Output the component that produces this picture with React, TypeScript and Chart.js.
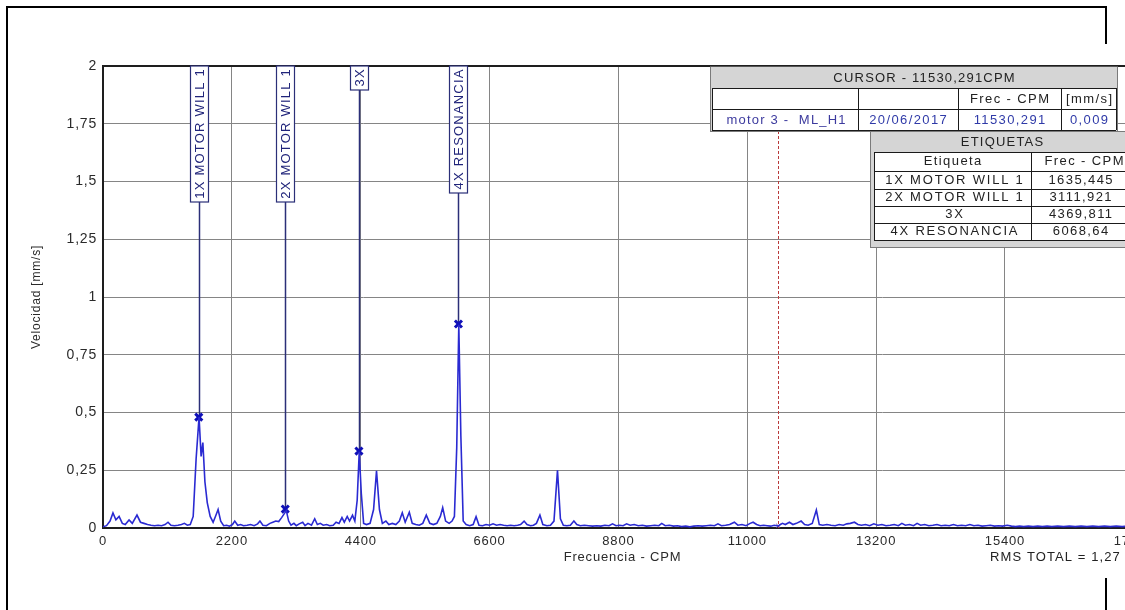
import React, { useEffect, useRef } from "react";
import { Chart, registerables } from "chart.js";
Chart.register(...registerables);

const FONT = "'Liberation Sans', Arial, sans-serif";

const freqCPM = [
  0, 60, 120, 170, 220, 275, 330, 380, 445, 500,
  580, 640, 700, 760, 820, 880, 940, 1000, 1060, 1110,
  1160, 1220, 1280, 1340, 1390, 1440, 1490, 1540, 1590, 1640,
  1675, 1705, 1740, 1780, 1830, 1880, 1920, 1965, 2010, 2060,
  2110, 2160, 2210, 2250, 2300, 2350, 2400, 2460, 2520, 2580,
  2640, 2680, 2730, 2790, 2850, 2900, 2950, 3000, 3050, 3090,
  3130, 3170, 3210, 3260, 3300, 3350, 3410, 3450, 3500, 3560,
  3615, 3660, 3710, 3760, 3820, 3870, 3930, 3980, 4030, 4080,
  4120, 4170, 4210, 4260, 4300, 4340, 4375, 4410, 4450, 4500,
  4560, 4620, 4670, 4720, 4770, 4830, 4880, 4940, 5000, 5060,
  5110, 5160, 5230, 5280, 5340, 5400, 5460, 5520, 5580, 5640,
  5700, 5760, 5800, 5850, 5910, 5960, 6000, 6040, 6075, 6110,
  6150, 6200, 6260, 6320, 6370, 6420, 6480, 6540, 6600, 6660,
  6720, 6780, 6840, 6900, 6960, 7020, 7080, 7130, 7190, 7240,
  7300, 7350, 7400, 7460, 7510, 7580, 7640, 7700, 7760, 7810,
  7860, 7920, 7980, 8040, 8090, 8150, 8220, 8290, 8360, 8430,
  8500, 8570, 8640, 8700, 8760, 8820, 8880, 8940, 9000, 9070,
  9140, 9210, 9280, 9350, 9420, 9490, 9540, 9600, 9670, 9740,
  9810, 9880, 9950, 10020, 10090, 10160, 10230, 10300, 10370, 10440,
  10500, 10560, 10630, 10700, 10780, 10840, 10910, 10980, 11050, 11100,
  11160, 11220, 11280, 11340, 11400, 11460, 11530, 11600, 11650, 11720,
  11780, 11840, 11920, 11980, 12040, 12110, 12180, 12230, 12290, 12360,
  12430, 12500, 12570, 12640, 12700, 12760, 12830, 12890, 12950, 13020,
  13090, 13160, 13230, 13300, 13370, 13440, 13510, 13580, 13640, 13700,
  13770, 13840, 13900, 13960, 14030, 14100, 14170, 14240, 14310, 14380,
  14450, 14520, 14590, 14660, 14730, 14800, 14870, 14940, 15010, 15080,
  15150, 15220, 15290, 15360, 15440, 15510, 15580, 15650, 15720, 15800,
  15880, 15960, 16040, 16120, 16200, 16300, 16400, 16500, 16600, 16700,
  16800, 16900, 17000, 17100, 17200, 17300, 17400, 17500, 17600, 17700,
];

const velocity = [
  0.005, 0.01, 0.03, 0.065, 0.035, 0.05, 0.02, 0.015, 0.035, 0.02,
  0.056, 0.025, 0.02, 0.015, 0.012, 0.01, 0.012, 0.01, 0.015, 0.025,
  0.012, 0.01, 0.012, 0.015, 0.02, 0.012, 0.015, 0.05, 0.3, 0.48,
  0.31, 0.37, 0.2, 0.11, 0.05, 0.025, 0.05, 0.08, 0.03, 0.01,
  0.012, 0.008, 0.015, 0.03, 0.012, 0.015, 0.01, 0.012, 0.015, 0.01,
  0.018, 0.03, 0.012, 0.01, 0.02, 0.025, 0.03, 0.028, 0.045, 0.06,
  0.075, 0.03, 0.012, 0.02, 0.01, 0.018, 0.025, 0.01, 0.02, 0.012,
  0.04, 0.015, 0.02, 0.012, 0.015, 0.01, 0.012, 0.025, 0.02, 0.045,
  0.025, 0.05, 0.03, 0.055, 0.03, 0.12, 0.33, 0.15, 0.02, 0.015,
  0.02, 0.08, 0.248, 0.08, 0.02, 0.03, 0.015, 0.02, 0.015, 0.03,
  0.066, 0.025, 0.068, 0.02, 0.015, 0.012, 0.02, 0.056, 0.02, 0.015,
  0.02, 0.05, 0.088, 0.03, 0.02, 0.03, 0.05, 0.35, 0.88, 0.4,
  0.03, 0.015, 0.01, 0.015, 0.049, 0.012, 0.01, 0.015, 0.012, 0.018,
  0.012, 0.015, 0.012, 0.01, 0.012, 0.01, 0.012, 0.015, 0.03, 0.015,
  0.01, 0.012, 0.02, 0.056, 0.015, 0.01, 0.012, 0.03, 0.25, 0.04,
  0.012, 0.01, 0.012, 0.03, 0.015, 0.01, 0.012, 0.01, 0.008, 0.01,
  0.008, 0.012, 0.01, 0.018, 0.01, 0.012, 0.01, 0.018, 0.012, 0.015,
  0.01, 0.012, 0.008, 0.01, 0.012, 0.01, 0.02, 0.01, 0.012, 0.008,
  0.01, 0.006, 0.008, 0.005, 0.008, 0.01, 0.008, 0.01, 0.012, 0.01,
  0.018, 0.01, 0.012, 0.015, 0.025, 0.012, 0.015, 0.01, 0.02, 0.025,
  0.015, 0.01, 0.012, 0.01, 0.008, 0.012, 0.009, 0.02, 0.015, 0.025,
  0.015, 0.02, 0.03, 0.015, 0.012, 0.02, 0.078, 0.015, 0.012, 0.015,
  0.012, 0.01, 0.015, 0.012, 0.018, 0.02, 0.025, 0.015, 0.012, 0.015,
  0.01, 0.018, 0.012, 0.015, 0.01, 0.012, 0.015, 0.01, 0.02, 0.012,
  0.015, 0.01, 0.02, 0.012, 0.015, 0.01, 0.012, 0.015, 0.01, 0.012,
  0.01, 0.015, 0.01, 0.012, 0.01, 0.015, 0.01, 0.012, 0.008, 0.01,
  0.012, 0.008, 0.01, 0.008, 0.012, 0.008, 0.006, 0.008, 0.006, 0.008,
  0.006, 0.008, 0.006, 0.008, 0.006, 0.008, 0.006, 0.008, 0.006, 0.008,
  0.006, 0.008, 0.006, 0.008, 0.006, 0.008, 0.006, 0.008, 0.006, 0.008,
];

const xTicks = [0, 2200, 4400, 6600, 8800, 11000, 13200, 15400, 17600];
const yTicks = [0, 0.25, 0.5, 0.75, 1, 1.25, 1.5, 1.75, 2];

const labelNames = ["1X MOTOR WILL 1", "2X MOTOR WILL 1", "3X", "4X RESONANCIA"];
const labelFreqs = [1635.445, 3111.921, 4369.811, 6068.64];
const labelAmps = [0.48, 0.082, 0.333, 0.883];

const cursorFreq = 11530.291;
const cursorAmp = 0.009;
const cursorSeries = "motor 3 -  ML_H1";
const cursorDate = "20/06/2017";
const rmsTotal = "1,27";

const fmt = (v: number) => String(v).replace(".", ",");

function txt(
  ctx: CanvasRenderingContext2D,
  s: string,
  x: number,
  y: number,
  o: { size?: number; color?: string; align?: CanvasTextAlign; spacing?: number } = {}
) {
  const spacing = o.spacing ?? 1.4;
  const align = o.align ?? "center";
  ctx.save();
  ctx.font = `${o.size ?? 13}px ${FONT}`;
  ctx.fillStyle = o.color ?? "#222";
  ctx.textAlign = align;
  ctx.textBaseline = "middle";
  (ctx as any).letterSpacing = spacing + "px";
  const dx = align === "center" ? spacing / 2 : 0;
  ctx.fillText(s, x + dx, y);
  ctx.restore();
}

function gridTable(ctx: CanvasRenderingContext2D, cols: number[], rows: number[]) {
  ctx.save();
  ctx.fillStyle = "#ffffff";
  ctx.fillRect(cols[0], rows[0], cols[cols.length - 1] - cols[0], rows[rows.length - 1] - rows[0]);
  ctx.strokeStyle = "#1a1a1a";
  ctx.lineWidth = 1;
  ctx.beginPath();
  rows.forEach((r) => {
    ctx.moveTo(cols[0], r + 0.5);
    ctx.lineTo(cols[cols.length - 1], r + 0.5);
  });
  cols.forEach((c) => {
    ctx.moveTo(c + 0.5, rows[0]);
    ctx.lineTo(c + 0.5, rows[rows.length - 1]);
  });
  ctx.stroke();
  ctx.restore();
}

const spacingPlugin = {
  id: "spacing",
  beforeUpdate(chart: any) {
    chart.ctx.letterSpacing = "0.8px";
  },
  beforeDraw(chart: any) {
    chart.ctx.letterSpacing = "0.8px";
  },
};

const annotationPlugin = {
  id: "annot",
  beforeDatasetsDraw(chart: any) {
    const { ctx, chartArea, scales } = chart;
    const x = scales.x;
    const y = scales.y;
    const cx = Math.round(x.getPixelForValue(cursorFreq)) + 0.5;
    ctx.save();
    ctx.strokeStyle = "#b83a3a";
    ctx.lineWidth = 1;
    ctx.setLineDash([3, 2]);
    ctx.beginPath();
    ctx.moveTo(cx, chartArea.top);
    ctx.lineTo(cx, chartArea.bottom);
    ctx.stroke();
    ctx.restore();

    labelNames.forEach((name, i) => {
      const px = Math.round(x.getPixelForValue(labelFreqs[i])) + 0.5;
      const py = y.getPixelForValue(labelAmps[i]);
      ctx.save();
      ctx.font = `13px ${FONT}`;
      (ctx as any).letterSpacing = "1.2px";
      const w = ctx.measureText(name).width;
      const boxH = Math.round(w + 6);
      const top = chartArea.top;
      ctx.strokeStyle = "#2b2f78";
      ctx.lineWidth = 1.5;
      ctx.beginPath();
      ctx.moveTo(px, top + boxH);
      ctx.lineTo(px, py);
      ctx.stroke();
      ctx.fillStyle = "#ffffff";
      ctx.fillRect(px - 9, top, 18, boxH);
      ctx.lineWidth = 1.2;
      ctx.strokeRect(px - 9, top, 18, boxH);
      ctx.translate(px + 1, top + boxH / 2);
      ctx.rotate(-Math.PI / 2);
      ctx.fillStyle = "#20247a";
      ctx.textAlign = "center";
      ctx.textBaseline = "middle";
      ctx.fillText(name, 0.6, 0);
      ctx.restore();
    });
  },
  afterDraw(chart: any) {
    const { ctx } = chart;
    ctx.save();
    ctx.fillStyle = "#d5d5d5";
    ctx.fillRect(710, 66, 408, 66);
    ctx.strokeStyle = "#7a7a7a";
    ctx.lineWidth = 1;
    ctx.strokeRect(710.5, 66.5, 407, 65);
    ctx.fillStyle = "#555";
    ctx.fillRect(710, 66, 408, 1);
    ctx.restore();
    txt(ctx, "CURSOR - " + fmt(cursorFreq) + "CPM", 924, 78, { spacing: 1.2 });
    gridTable(ctx, [712, 858, 958, 1061, 1116], [88, 109, 130]);
    txt(ctx, "Frec - CPM", 1009.5, 99);
    txt(ctx, "[mm/s]", 1089, 99);
    const blue = "#2f3aa8";
    txt(ctx, cursorSeries, 786, 120, { color: "#3c3a9e", spacing: 1.2 });
    txt(ctx, cursorDate, 908, 120, { color: blue });
    txt(ctx, fmt(cursorFreq), 1009.5, 120, { color: blue });
    txt(ctx, fmt(cursorAmp), 1089, 120, { color: blue });

    ctx.save();
    ctx.fillStyle = "#d5d5d5";
    ctx.fillRect(870, 131, 265, 117);
    ctx.strokeStyle = "#7a7a7a";
    ctx.strokeRect(870.5, 131.5, 264, 116);
    ctx.restore();
    txt(ctx, "ETIQUETAS", 1002, 142, { spacing: 1.2 });
    const rows = [152, 171, 189, 206, 223, 240];
    gridTable(ctx, [874, 1031, 1130], rows);
    txt(ctx, "Etiqueta", 952.5, 161.5);
    txt(ctx, "Frec - CPM", 1084, 161.5);
    labelNames.forEach((name, i) => {
      const yc = (rows[i + 1] + rows[i + 2]) / 2;
      txt(ctx, name, 954, yc, { spacing: 1.8 });
      txt(ctx, fmt(labelFreqs[i]), 1080.5, yc);
    });

    txt(ctx, "RMS TOTAL = " + rmsTotal, 990, 557, { align: "left", spacing: 1.1 });

    ctx.save();
    ctx.fillStyle = "#000";
    ctx.fillRect(6, 6, 2, 604);
    ctx.fillRect(6, 6, 1101, 2);
    ctx.fillRect(1105, 6, 2, 38);
    ctx.fillRect(1105, 578, 2, 32);
    ctx.restore();
  },
};

export default function App() {
  const ref = useRef<HTMLCanvasElement | null>(null);
  useEffect(() => {
    if (!ref.current) return;
    const chart = new Chart(ref.current, {
      type: "line",
      data: {
        datasets: [
          {
            label: "Espectro",
            data: freqCPM.map((f, i) => ({ x: f, y: velocity[i] })),
            borderColor: "#2a2ad2",
            borderWidth: 1.6,
            pointRadius: 0,
            tension: 0,
          },
          {
            label: "Etiquetas",
            data: labelFreqs.map((f, i) => ({ x: f, y: labelAmps[i] })),
            showLine: false,
            pointStyle: "crossRot",
            pointRadius: 5,
            borderWidth: 3,
            borderColor: "#1010b8",
            backgroundColor: "#1010b8",
          },
          {
            label: "Cursor",
            data: [{ x: cursorFreq, y: cursorAmp }],
            showLine: false,
            pointStyle: "crossRot",
            pointRadius: 3,
            borderWidth: 1,
            borderColor: "#6a4aa8",
          },
        ],
      },
      options: {
        animation: false,
        responsive: false,
        devicePixelRatio: 1,
        layout: { padding: { left: 0, top: 66, right: 17, bottom: 30 } },
        plugins: {
          legend: { display: false },
          tooltip: { enabled: false },
          title: { display: false },
        },
        scales: {
          x: {
            type: "linear",
            min: 0,
            max: 17740,
            afterBuildTicks: (s: any) => {
              s.ticks = xTicks.map((v) => ({ value: v }));
            },
            afterFit: (s: any) => {
              s.height = 52;
            },
            grid: { color: "#858585", lineWidth: 1, drawTicks: false },
            border: { color: "#1e1e1e", width: 2 },
            ticks: {
              padding: 6,
              color: "#2a2a2a",
              font: { family: FONT, size: 13 },
              maxRotation: 0,
              autoSkip: false,
              callback: (v: any) => String(v),
            },
            title: {
              display: true,
              text: "Frecuencia - CPM",
              color: "#2a2a2a",
              font: { family: FONT, size: 13 },
              padding: { top: 0, bottom: 15 },
            },
          },
          y: {
            type: "linear",
            min: 0,
            max: 2,
            afterBuildTicks: (s: any) => {
              s.ticks = yTicks.map((v) => ({ value: v }));
            },
            afterFit: (s: any) => {
              s.width = 103;
            },
            grid: {
              color: (c: any) => (c.tick && c.tick.value === 2 ? "#1e1e1e" : "#858585"),
              lineWidth: (c: any) => (c.tick && c.tick.value === 2 ? 2 : 1),
              drawTicks: false,
            },
            border: { color: "#1e1e1e", width: 2 },
            ticks: {
              padding: 6,
              color: "#2a2a2a",
              font: { family: FONT, size: 14 },
              callback: (v: any) => fmt(v),
            },
            title: {
              display: true,
              text: "Velocidad [mm/s]",
              color: "#2a2a2a",
              font: { family: FONT, size: 12 },
              padding: { top: 29, bottom: 0 },
            },
          },
        },
      } as any,
      plugins: [spacingPlugin, annotationPlugin],
    });
    return () => chart.destroy();
  }, []);

  return (
    <div
      style={{
        position: "fixed",
        left: 0,
        top: 0,
        width: 1125,
        height: 610,
        overflow: "hidden",
        background: "#fff",
      }}
    >
      <canvas ref={ref} width={1160} height={610} style={{ display: "block" }} />
    </div>
  );
}
